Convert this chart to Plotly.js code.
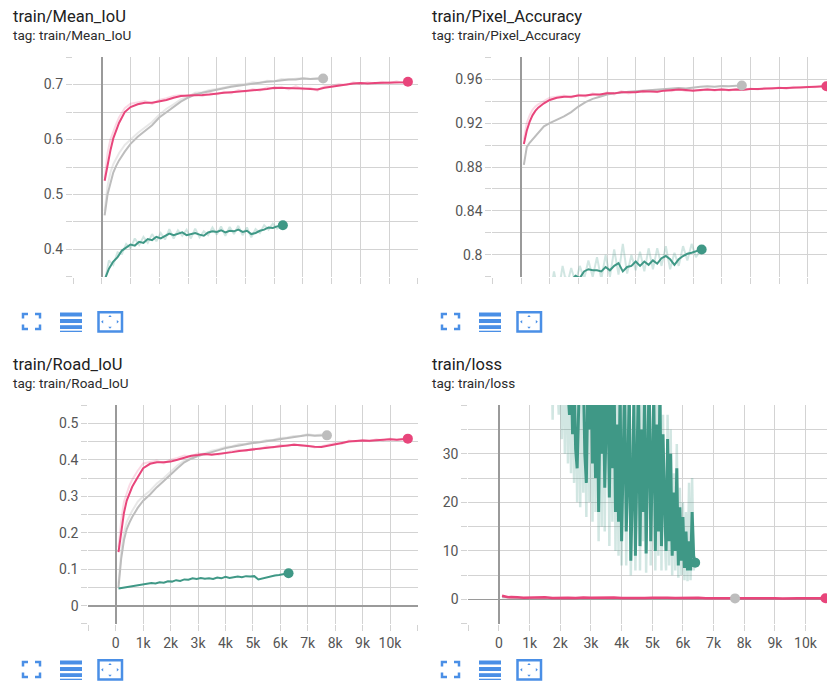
<!DOCTYPE html>
<html>
<head>
<meta charset="utf-8">
<script src="https://cdn.plot.ly/plotly-3.0.1.min.js"></script>
<style>
  html, body { margin: 0; padding: 0; background: #ffffff; }
  #chart { width: 827px; height: 686px; }
</style>
</head>
<body>
<div id="chart"></div>
<script>
// ---------------- DATA ----------------
const panelTitles = ['train/Mean_IoU', 'train/Pixel_Accuracy', 'train/Road_IoU', 'train/loss'];
const panelTags = ['tag: train/Mean_IoU', 'tag: train/Pixel_Accuracy', 'tag: train/Road_IoU', 'tag: train/loss'];

const pinkSteps = [100,200,300,400,500,600,800,1000,1250,1500,1750,2000,2250,2500,2750,3000,3250,3500,3750,4000,4250,4500,4750,5000,5250,5500,5750,6000,6250,6500,6750,7000,7250,7500,7750,8000,8250,8500,8750,9000,9250,9500,9750,10000,10250,10500,10650];
const graySteps = [100,200,300,400,500,600,800,1000,1250,1500,1750,2000,2250,2500,2750,3000,3250,3500,3750,4000,4250,4500,4750,5000,5250,5500,5750,6000,6250,6500,6750,7000,7250,7500,7700];
const greenSteps = [100,250,400,550,700,850,1000,1150,1300,1450,1600,1750,1900,2050,2200,2350,2500,2650,2800,2950,3100,3250,3400,3550,3700,3850,4000,4150,4300,4450,4600,4750,4900,5050,5200,5350,5500,5650,5800,5950,6100,6300];

// Mean IoU
const pinkMeanIoU = [0.525,0.556,0.58,0.602,0.618,0.630,0.650,0.659,0.664,0.667,0.667,0.669,0.672,0.676,0.679,0.680,0.680,0.681,0.682,0.684,0.685,0.686,0.687,0.688,0.690,0.691,0.692,0.694,0.694,0.693,0.694,0.693,0.692,0.691,0.694,0.696,0.699,0.700,0.702,0.703,0.702,0.703,0.703,0.703,0.704,0.704,0.705];
const pinkMeanIoURaw = [0.53,0.575,0.60,0.615,0.628,0.64,0.657,0.665,0.668,0.670,0.665,0.672,0.675,0.679,0.681,0.678,0.683,0.679,0.685,0.682,0.687,0.684,0.69,0.687,0.692,0.689,0.695,0.692,0.696,0.691,0.697,0.691,0.694,0.689,0.697,0.698,0.701,0.699,0.704,0.701,0.704,0.702,0.705,0.702,0.706,0.703,0.706];
const grayMeanIoU = [0.462,0.50,0.52,0.54,0.552,0.562,0.578,0.592,0.605,0.615,0.626,0.640,0.650,0.660,0.669,0.676,0.682,0.685,0.688,0.691,0.693,0.696,0.698,0.700,0.702,0.703,0.705,0.706,0.708,0.709,0.709,0.711,0.710,0.710,0.711];
const grayMeanIoURaw = [0.47,0.515,0.54,0.555,0.565,0.575,0.59,0.6,0.612,0.622,0.632,0.645,0.656,0.664,0.673,0.678,0.685,0.686,0.69,0.692,0.695,0.697,0.7,0.701,0.704,0.703,0.707,0.706,0.71,0.709,0.711,0.712,0.71,0.712,0.711];
const greenMeanIoU = [0.345,0.365,0.378,0.386,0.398,0.403,0.409,0.407,0.414,0.412,0.419,0.417,0.423,0.420,0.425,0.429,0.426,0.428,0.431,0.426,0.428,0.430,0.427,0.425,0.431,0.433,0.432,0.435,0.431,0.434,0.433,0.436,0.432,0.434,0.428,0.430,0.434,0.436,0.440,0.439,0.442,0.444];
const greenMeanIoURaw = [0.34,0.38,0.372,0.395,0.392,0.41,0.402,0.42,0.408,0.423,0.412,0.428,0.415,0.43,0.418,0.437,0.42,0.435,0.425,0.436,0.42,0.438,0.422,0.433,0.426,0.44,0.427,0.442,0.425,0.441,0.428,0.443,0.426,0.44,0.422,0.437,0.43,0.444,0.436,0.447,0.438,0.446];

// Pixel accuracy
const pinkPixAcc = [0.901,0.913,0.921,0.927,0.931,0.934,0.938,0.941,0.943,0.944,0.944,0.945,0.945,0.946,0.946,0.947,0.947,0.948,0.948,0.948,0.949,0.949,0.9485,0.9495,0.950,0.9505,0.950,0.9495,0.950,0.9505,0.950,0.9505,0.950,0.9505,0.9502,0.951,0.951,0.9515,0.952,0.952,0.9518,0.9522,0.9525,0.9525,0.953,0.9535,0.9535];
const pinkPixAccRaw = [0.905,0.92,0.927,0.932,0.935,0.937,0.94,0.943,0.944,0.945,0.943,0.946,0.944,0.947,0.945,0.948,0.946,0.949,0.947,0.949,0.948,0.950,0.948,0.9505,0.949,0.951,0.949,0.9505,0.9495,0.951,0.9495,0.951,0.9495,0.951,0.950,0.9515,0.9505,0.952,0.951,0.9525,0.951,0.953,0.952,0.953,0.9525,0.954,0.953];
const grayPixAcc = [0.882,0.898,0.902,0.905,0.909,0.912,0.917,0.920,0.923,0.926,0.930,0.935,0.939,0.942,0.944,0.946,0.947,0.948,0.9485,0.949,0.9495,0.950,0.9505,0.951,0.9515,0.952,0.9515,0.9525,0.953,0.9535,0.953,0.9538,0.9535,0.954,0.9542];
const greenPixAcc = [0.72,0.735,0.745,0.752,0.758,0.763,0.767,0.77,0.773,0.776,0.779,0.777,0.781,0.779,0.785,0.787,0.786,0.786,0.785,0.789,0.786,0.790,0.7925,0.785,0.789,0.790,0.794,0.790,0.794,0.791,0.795,0.792,0.797,0.799,0.796,0.791,0.796,0.799,0.801,0.802,0.803,0.805];
const greenPixAccRaw = [0.70,0.75,0.73,0.77,0.75,0.775,0.76,0.785,0.765,0.79,0.772,0.788,0.775,0.79,0.778,0.795,0.78,0.798,0.778,0.80,0.78,0.805,0.782,0.81,0.783,0.80,0.786,0.803,0.785,0.806,0.787,0.806,0.79,0.808,0.787,0.802,0.79,0.808,0.795,0.81,0.798,0.806];

// Road IoU
const pinkRoadIoU = [0.147,0.205,0.255,0.288,0.308,0.326,0.352,0.377,0.389,0.393,0.393,0.395,0.400,0.406,0.411,0.413,0.416,0.414,0.416,0.417,0.421,0.424,0.426,0.428,0.431,0.434,0.436,0.438,0.439,0.441,0.440,0.437,0.436,0.435,0.438,0.443,0.446,0.450,0.452,0.453,0.452,0.454,0.455,0.456,0.455,0.457,0.458];
const pinkRoadIoURaw = [0.16,0.235,0.285,0.31,0.33,0.345,0.37,0.39,0.395,0.398,0.39,0.40,0.405,0.412,0.409,0.418,0.413,0.418,0.414,0.42,0.424,0.427,0.424,0.431,0.429,0.437,0.434,0.441,0.437,0.443,0.438,0.439,0.434,0.437,0.441,0.446,0.444,0.453,0.45,0.455,0.451,0.456,0.453,0.458,0.454,0.459,0.457];
const grayRoadIoU = [0.05,0.13,0.18,0.21,0.228,0.243,0.268,0.288,0.305,0.325,0.342,0.360,0.377,0.393,0.403,0.410,0.416,0.421,0.427,0.432,0.436,0.440,0.443,0.446,0.448,0.451,0.454,0.457,0.460,0.462,0.465,0.468,0.466,0.467,0.467];
const grayRoadIoURaw = [0.06,0.15,0.2,0.23,0.245,0.26,0.285,0.30,0.315,0.335,0.35,0.368,0.384,0.398,0.405,0.414,0.418,0.425,0.429,0.435,0.437,0.443,0.444,0.449,0.449,0.454,0.455,0.46,0.461,0.465,0.466,0.47,0.467,0.469,0.468];
const greenRoadIoU = [0.047,0.049,0.051,0.052,0.054,0.056,0.058,0.059,0.062,0.061,0.064,0.063,0.067,0.066,0.070,0.068,0.072,0.071,0.075,0.073,0.076,0.074,0.075,0.073,0.077,0.075,0.079,0.076,0.078,0.080,0.078,0.081,0.080,0.081,0.072,0.075,0.077,0.080,0.083,0.084,0.087,0.089];

// Loss
const pinkLoss = [0.8,0.6,0.5,0.55,0.45,0.5,0.4,0.45,0.38,0.5,0.35,0.42,0.4,0.33,0.45,0.36,0.4,0.32,0.42,0.35,0.3,0.4,0.33,0.37,0.3,0.38,0.32,0.35,0.3,0.36,0.28,0.34,0.3,0.26,0.33,0.3,0.27,0.33,0.28,0.3,0.25,0.32,0.27,0.29,0.26,0.3,0.28];
const grayLoss = [0.5,0.45,0.4,0.38,0.36,0.35,0.33,0.32,0.31,0.3,0.3,0.29,0.29,0.28,0.28,0.28,0.27,0.27,0.27,0.27,0.26,0.26,0.26,0.26,0.26,0.25,0.25,0.25,0.25,0.25,0.25,0.25,0.25,0.25,0.25];
const greenLossSteps = [2200,2250,2300,2350,2400,2450,2500,2550,2600,2650,2700,2750,2800,2850,2900,2950,3000,3050,3100,3150,3200,3250,3300,3350,3400,3450,3500,3550,3600,3650,3700,3750,3800,3850,3900,3950,4000,4050,4100,4150,4200,4250,4300,4350,4400,4450,4500,4550,4600,4650,4700,4750,4800,4850,4900,4950,5000,5050,5100,5150,5200,5250,5300,5350,5400,5450,5500,5550,5600,5650,5700,5750,5800,5850,5900,5950,6000,6050,6100,6150,6200,6250,6300,6350,6400];
const greenLoss = [48,42,38,50,34,46,31,27,44,52,41,47,30,24,45,35,50,28,44,25,48,18,42,30,47,23,38,46,21,44,27,49,18,36,16,43,12,30,45,14,25,44,8,22,41,9,28,46,11,35,18,43,9.5,30,47,12,26,42,10,36,14,44,11,34,20,10,33,12,30,9,22,10,27,7,19,8,17,6.5,14,6,12,6,18,9,7.6];
const greenLossRawSteps = [1700,1750,1800,1850,1900,1950,2000,2050,2100,2150,2200,2250,2300,2350,2400,2450,2500,2550,2600,2650,2700,2750,2800,2850,2900,2950,3000,3050,3100,3150,3200,3250,3300,3350,3400,3450,3500,3550,3600,3650,3700,3750,3800,3850,3900,3950,4000,4050,4100,4150,4200,4250,4300,4350,4400,4450,4500,4550,4600,4650,4700,4750,4800,4850,4900,4950,5000,5050,5100,5150,5200,5250,5300,5350,5400,5450,5500,5550,5600,5650,5700,5750,5800,5850,5900,5950,6000,6050,6100,6150,6200,6250,6300,6350,6400];
const greenLossRaw = [60,37,60,55,45,38,60,33,55,30,58,28,55,26,50,24,48,20,55,19,52,22,45,17,55,20,60,16,52,18,56,12,48,15,55,14,46,50,11,52,16,58,10,42,9,50,7,38,52,7,30,50,5,28,47,6,35,55,6,40,12,50,5.5,36,55,7,30,48,6,42,9,50,6,38,14,6,38,7,35,5,26,6,32,4.5,23,5,20,4,18,3.8,24,4,25,6,8];

// Axis ticks
const xTickVals = [-1000,0,1000,2000,3000,4000,5000,6000,7000,8000,9000,10000,11000];
const xTickText = ['','0','1k','2k','3k','4k','5k','6k','7k','8k','9k','10k',''];
const meanTickVals = [0.35,0.4,0.45,0.5,0.55,0.6,0.65,0.7,0.75];
const meanTickText = ['','0.4','','0.5','','0.6','','0.7',''];
const pixTickVals = [0.78,0.8,0.82,0.84,0.86,0.88,0.9,0.92,0.94,0.96,0.98];
const pixTickText = ['','0.8','','0.84','','0.88','','0.92','','0.96',''];
const roadTickVals = [-0.05,0,0.05,0.1,0.15,0.2,0.25,0.3,0.35,0.4,0.45,0.5,0.55];
const roadTickText = ['','0','','0.1','','0.2','','0.3','','0.4','','0.5',''];
const lossTickVals = [-5,0,5,10,15,20,25,30,35,40];
const lossTickText = ['','0','','10','','20','','30','',''];

// ---------------- STYLE ----------------
const W = 827, H = 686;
const PINK = '#e8457b', GRAY = '#bdbdbd', GREEN = '#3f9886';
const GREEN_LIGHT = 'rgba(63,152,134,0.24)';
const PINK_LIGHT = 'rgba(232,69,123,0.2)';
const GRAY_LIGHT = 'rgba(189,189,189,0.35)';
const BLUE = '#4a8fe6';
const GRID = '#d3d3d3';
const FONT = 'Roboto, "Open Sans", sans-serif';
const px = x => x / W;
const py = y => 1 - y / H;

function line(axis, x, y, color, width) {
  return { type: 'scatter', mode: 'lines', x: x, y: y, xaxis: 'x' + axis, yaxis: 'y' + axis,
    line: { color: color, width: width }, hoverinfo: 'skip' };
}
function endDot(axis, x, y, color) {
  return { type: 'scatter', mode: 'markers', x: [x[x.length - 1]], y: [y[y.length - 1]],
    xaxis: 'x' + axis, yaxis: 'y' + axis, marker: { color: color, size: 10 }, hoverinfo: 'skip' };
}

const traces = [
  // panel 1
  line('', graySteps, grayMeanIoURaw, GRAY_LIGHT, 2),
  line('', pinkSteps, pinkMeanIoURaw, PINK_LIGHT, 2),
  line('', greenSteps, greenMeanIoURaw, GREEN_LIGHT, 2),
  line('', graySteps, grayMeanIoU, GRAY, 2),
  line('', greenSteps, greenMeanIoU, GREEN, 2),
  line('', pinkSteps, pinkMeanIoU, PINK, 2),
  endDot('', graySteps, grayMeanIoU, GRAY),
  endDot('', greenSteps, greenMeanIoU, GREEN),
  endDot('', pinkSteps, pinkMeanIoU, PINK),
  // panel 2
  line('2', pinkSteps, pinkPixAccRaw, PINK_LIGHT, 2),
  line('2', greenSteps, greenPixAccRaw, GREEN_LIGHT, 2),
  line('2', graySteps, grayPixAcc, GRAY, 2),
  line('2', greenSteps, greenPixAcc, GREEN, 2),
  line('2', pinkSteps, pinkPixAcc, PINK, 2),
  endDot('2', graySteps, grayPixAcc, GRAY),
  endDot('2', greenSteps, greenPixAcc, GREEN),
  endDot('2', pinkSteps, pinkPixAcc, PINK),
  // panel 3
  line('3', graySteps, grayRoadIoURaw, GRAY_LIGHT, 2),
  line('3', pinkSteps, pinkRoadIoURaw, PINK_LIGHT, 2),
  line('3', graySteps, grayRoadIoU, GRAY, 2),
  line('3', greenSteps, greenRoadIoU, GREEN, 2),
  line('3', pinkSteps, pinkRoadIoU, PINK, 2),
  endDot('3', graySteps, grayRoadIoU, GRAY),
  endDot('3', greenSteps, greenRoadIoU, GREEN),
  endDot('3', pinkSteps, pinkRoadIoU, PINK),
  // panel 4
  line('4', greenLossRawSteps, greenLossRaw, GREEN_LIGHT, 2.5),
  line('4', graySteps, grayLoss, GRAY, 2),
  line('4', greenLossSteps, greenLoss, GREEN, 3),
  line('4', pinkSteps, pinkLoss, PINK, 2.5),
  endDot('4', graySteps, grayLoss, GRAY),
  endDot('4', greenLossSteps, greenLoss, GREEN),
  endDot('4', pinkSteps, pinkLoss, PINK)
];

function xAxis(domain, range, anchor, labels) {
  return { domain: domain, range: range, anchor: anchor, tickmode: 'array', tickvals: xTickVals,
    ticktext: xTickText, showticklabels: labels, showgrid: true, gridcolor: GRID, gridwidth: 1,
    zeroline: true, zerolinecolor: '#9a9a9a', zerolinewidth: 1.7, showline: false,
    ticks: 'outside', ticklen: 6, tickcolor: GRID, tickwidth: 1,
    tickfont: { family: FONT, size: 14, color: '#555555' }, fixedrange: true };
}
function yAxis(domain, range, anchor, vals, text) {
  return { domain: domain, range: range, anchor: anchor, tickmode: 'array', tickvals: vals,
    ticktext: text, showgrid: true, gridcolor: GRID, gridwidth: 1,
    zeroline: true, zerolinecolor: '#9a9a9a', zerolinewidth: 1.7, showline: false,
    ticks: 'outside', ticklen: 6, tickcolor: GRID, tickwidth: 1,
    tickfont: { family: FONT, size: 14, color: '#555555' }, fixedrange: true };
}

const topY = [py(277), py(57)];
const botY = [py(624), py(405)];

// annotations (titles)
const annotations = [];
const offsets = [[0, 0], [419, 0], [0, 348], [419, 348]];
panelTitles.forEach((t, i) => {
  const [ox, oy] = offsets[i];
  annotations.push({ text: t, xref: 'paper', yref: 'paper', x: px(11 + ox), y: py(16 + oy),
    xanchor: 'left', yanchor: 'middle', showarrow: false,
    font: { family: FONT, size: 16.5, color: '#212121' } });
  annotations.push({ text: panelTags[i], xref: 'paper', yref: 'paper', x: px(11 + ox), y: py(35 + oy),
    xanchor: 'left', yanchor: 'middle', showarrow: false,
    font: { family: FONT, size: 13.5, color: '#2b2b2b' } });
});

// icons
function pathPx(pts, close) {
  let s = pts.map((p, k) => (k === 0 ? 'M' : 'L') + px(p[0]).toFixed(5) + ',' + py(p[1]).toFixed(5)).join(' ');
  return close ? s + ' Z' : s;
}
const shapes = [];
offsets.forEach(([ox, oy]) => {
  const P = (x, y) => [x + ox, y + oy];
  const corners = [
    [P(23, 318.5), P(23, 314), P(28, 314)],
    [P(35, 314), P(40, 314), P(40, 318.5)],
    [P(23, 324.5), P(23, 329), P(28, 329)],
    [P(35, 329), P(40, 329), P(40, 324.5)]
  ];
  corners.forEach(c => shapes.push({ type: 'path', xref: 'paper', yref: 'paper', path: pathPx(c, false),
    line: { color: BLUE, width: 2.5 } }));
  [[312.5, 316.5], [319, 323], [325.2, 329], [330.7, 332]].forEach(([a, b]) => {
    shapes.push({ type: 'rect', xref: 'paper', yref: 'paper', x0: px(60 + ox), x1: px(82 + ox),
      y0: py(b + oy), y1: py(a + oy), fillcolor: BLUE, line: { width: 0 } });
  });
  shapes.push({ type: 'rect', xref: 'paper', yref: 'paper', x0: px(98.5 + ox), x1: px(122 + ox),
    y0: py(331.5 + oy), y1: py(312.2 + oy), line: { color: BLUE, width: 2.5 } });
  const tris = [
    [P(108.3, 317), P(111.7, 317), P(110, 314.9)],
    [P(108.3, 326.7), P(111.7, 326.7), P(110, 328.8)],
    [P(103.2, 320), P(103.2, 323.4), P(101.1, 321.7)],
    [P(116.8, 320), P(116.8, 323.4), P(118.9, 321.7)]
  ];
  tris.forEach(t => shapes.push({ type: 'path', xref: 'paper', yref: 'paper', path: pathPx(t, true),
    fillcolor: BLUE, line: { width: 0 } }));
});

const layout = {
  width: W, height: H,
  margin: { l: 0, r: 0, t: 0, b: 0 },
  paper_bgcolor: '#ffffff', plot_bgcolor: '#ffffff',
  showlegend: false, hovermode: false,
  font: { family: FONT },
  xaxis: xAxis([px(73), px(418)], [-1001, 11001], 'y', false),
  yaxis: yAxis(topY, [0.3499, 0.7501], 'x', meanTickVals, meanTickText),
  xaxis2: xAxis([px(492.3), 1], [-1001, 10670], 'y2', false),
  yaxis2: yAxis(topY, [0.7799, 0.9801], 'x2', pixTickVals, pixTickText),
  xaxis3: xAxis([px(88.3), px(418)], [-1001, 11020], 'y3', true),
  yaxis3: yAxis(botY, [-0.0502, 0.5502], 'x3', roadTickVals, roadTickText),
  xaxis4: xAxis([px(468.3), 1], [-1001, 10700], 'y4', true),
  yaxis4: yAxis(botY, [-5.02, 40.02], 'x4', lossTickVals, lossTickText),
  annotations: annotations,
  shapes: shapes
};

Plotly.newPlot('chart', traces, layout, { staticPlot: true, displayModeBar: false });
</script>
</body>
</html>
